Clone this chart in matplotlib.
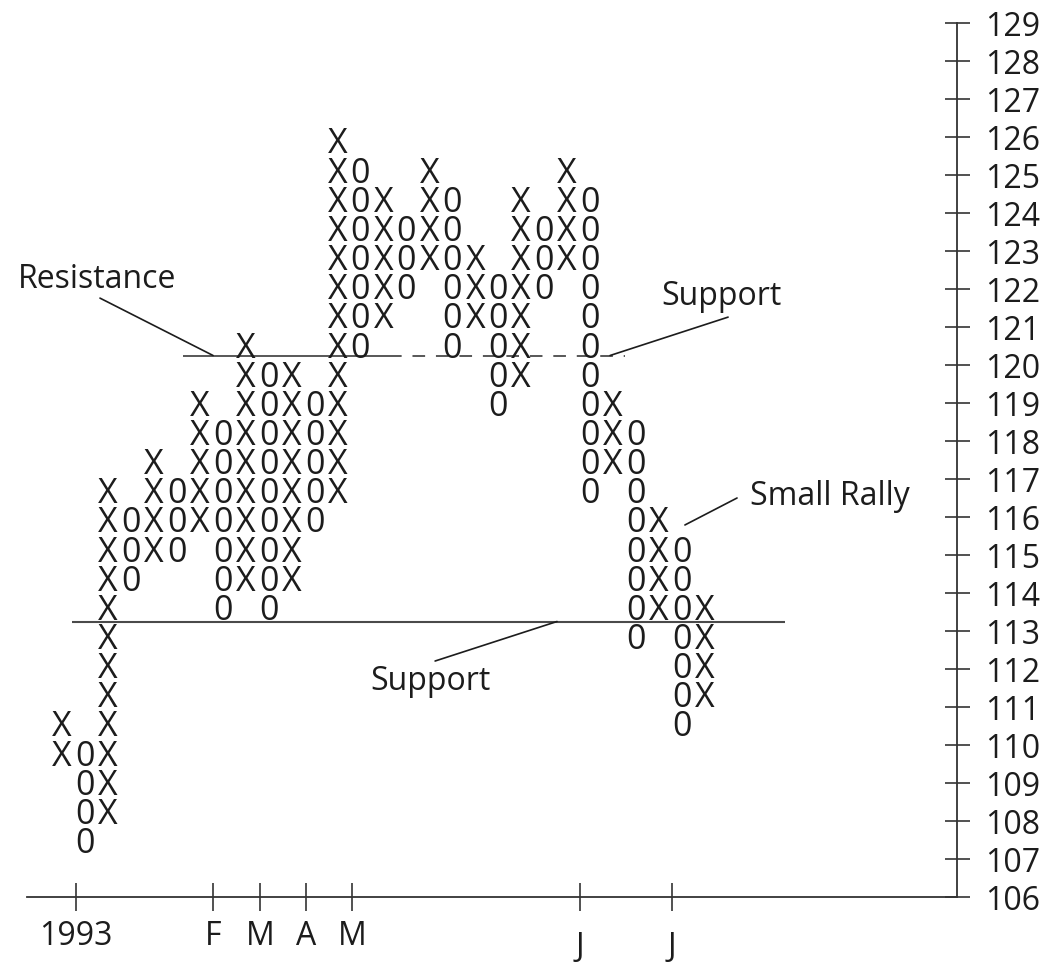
'''
Point & figure chart, 1993
'''

# Imports
import matplotlib
matplotlib.use('Agg')
import matplotlib.pyplot as plt
from matplotlib.transforms import ScaledTranslation

# Data
# columns alternate X (rising) and 0 (falling), the first one is an X column
# rows are box numbers counted from the lowest box of the chart
COL_BOTTOM = [3, 0, 1, 9, 10, 10, 11, 8, 9, 8, 9, 11, 12, 17, 18, 19, 20, 17, 18, 15,
              16, 19, 20, 12, 13, 7, 8, 4, 5]
COL_TOP = [4, 3, 12, 11, 13, 12, 15, 14, 17, 16, 16, 15, 24, 23, 22, 21, 23, 22, 20, 19,
           22, 21, 23, 22, 15, 14, 11, 10, 8]

PRICES = list(range(106, 130))
DATE_POS = [0.6, 6.58, 8.62, 10.63, 12.63, 22.55, 26.57]
DATE_LABELS = ['1993', 'F', 'M', 'A', 'M', 'J', 'J']

RESISTANCE = 120.25
SUPPORT = 113.25

# Layout
ROW0 = 107.5      # price at box 0
BOX = 0.767       # price per box on the drawing
FONT = ['Open Sans', 'DejaVu Sans']
FS = 23
INK = '#1c1c1c'
LINE = '#4a4a4a'

plt.rcParams['font.family'] = FONT

fig = plt.figure(figsize=(10.57, 9.64), dpi=100)
ax = fig.add_axes([27 / 1057, 67 / 964, 930 / 1057, 874 / 964])
ax.set_xlim(-1.524, 38.98)
ax.set_ylim(106, 129)

# symbols
for i, (lo, hi) in enumerate(zip(COL_BOTTOM, COL_TOP)):
    sym = 'X' if i % 2 == 0 else '0'
    for r in range(lo, hi + 1):
        ax.text(i, ROW0 + r * BOX, sym, ha='center', va='center_baseline',
                fontsize=24.5, color=INK)

# resistance / support lines
ax.plot([5.27, 14.25], [RESISTANCE, RESISTANCE], color=LINE, lw=1.3, solid_capstyle='butt')
ax.plot([14.25, 24.5], [RESISTANCE, RESISTANCE], color=LINE, lw=1.3, dashes=(7, 6))
ax.plot([0.44, 31.5], [SUPPORT, SUPPORT], color=LINE, lw=1.5, solid_capstyle='butt')

# labels with leader lines
notes = [
    ('Resistance', (1.52, 122.03), (1.655, 121.76), (6.58, RESISTANCE)),
    ('Support', (28.72, 121.58), (29.01, 121.26), (23.87, RESISTANCE)),
    ('Support', (16.05, 111.45), (16.25, 112.21), (21.56, SUPPORT)),
    ('Small Rally', (33.45, 116.32), (29.40, 116.50), (27.13, 115.79)),
]
for txt, pos, a, b in notes:
    ax.text(pos[0], pos[1], txt, ha='center', va='baseline', fontsize=FS, color=INK)
    ax.annotate('', xy=b, xytext=a,
                arrowprops=dict(arrowstyle='-', color=INK, lw=1.2,
                                shrinkA=0, shrinkB=0))

# axes
for s in ['top', 'left']:
    ax.spines[s].set_visible(False)
for s in ['bottom', 'right']:
    ax.spines[s].set_color('#333333')
    ax.spines[s].set_linewidth(1.3)

ax.yaxis.tick_right()
ax.set_yticks(PRICES)
ax.set_yticklabels([str(p) for p in PRICES])
ax.tick_params(axis='y', direction='inout', length=18, width=1.2, pad=11,
               labelsize=FS, colors='#333333', labelcolor=INK)

ax.set_xticks(DATE_POS)
ax.set_xticklabels(DATE_LABELS)
ax.tick_params(axis='x', direction='inout', length=19.5, width=1.2, pad=7,
               labelsize=FS, colors='#333333', labelcolor=INK)

# the two J labels sit a little lower
shift = ScaledTranslation(0, -11 / 100, fig.dpi_scale_trans)
for t in ax.xaxis.get_major_ticks():
    if t.label1.get_text() == 'J':
        t.label1.set_transform(t.label1.get_transform() + shift)

fig.savefig('out.png', dpi=100)
